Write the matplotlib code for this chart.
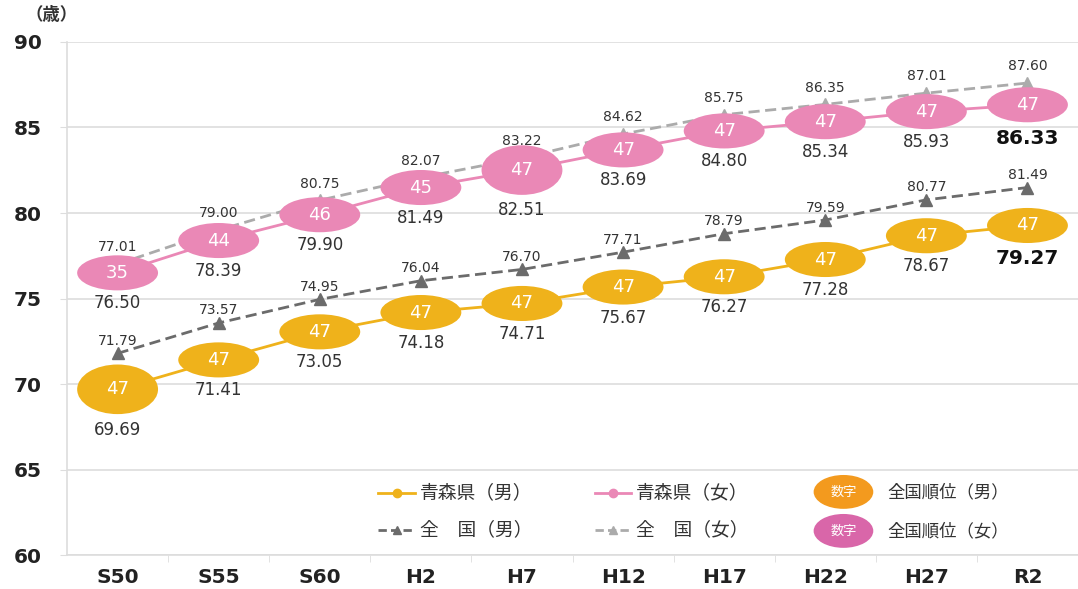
import matplotlib
matplotlib.use("Agg")
import matplotlib.pyplot as plt
from matplotlib.patches import Ellipse
from matplotlib.lines import Line2D

plt.rcParams['font.family'] = ['DejaVu Sans', 'Noto Sans CJK JP']

# 年次
periods = ["S50", "S55", "S60", "H2", "H7", "H12", "H17", "H22", "H27", "R2"]

# 平均寿命（歳）
aomori_male = [69.69, 71.41, 73.05, 74.18, 74.71, 75.67, 76.27, 77.28, 78.67, 79.27]
aomori_female = [76.50, 78.39, 79.90, 81.49, 82.51, 83.69, 84.80, 85.34, 85.93, 86.33]
national_male = [71.79, 73.57, 74.95, 76.04, 76.70, 77.71, 78.79, 79.59, 80.77, 81.49]
national_female = [77.01, 79.00, 80.75, 82.07, 83.22, 84.62, 85.75, 86.35, 87.01, 87.60]

# 全国順位
rank_male = [47, 47, 47, 47, 47, 47, 47, 47, 47, 47]
rank_female = [35, 44, 46, 45, 47, 47, 47, 47, 47, 47]

C_M = "#EFB21B"
C_F = "#EA88B6"
C_NM = "#6B6B6B"
C_NF = "#ABABAB"
C_TXT = "#333333"

fig = plt.figure(figsize=(10.78, 5.89), dpi=100)
ax = fig.add_axes([0.0622, 0.0577, 0.9378, 0.871])
x = list(range(len(periods)))

ax.set_xlim(-0.5, len(periods) - 0.5)
ax.set_ylim(60, 90)
ax.set_yticks(range(60, 91, 5))
ax.yaxis.grid(True, color="#DDDDDD", linewidth=1.2)
ax.set_axisbelow(True)
for s in ["top", "right"]:
    ax.spines[s].set_visible(False)
for s in ["left", "bottom"]:
    ax.spines[s].set_color("#DDDDDD")
    ax.spines[s].set_linewidth(1.2)
ax.tick_params(axis="y", length=5, color="#DDDDDD", labelsize=14.5, labelcolor="#222222", pad=13)
ax.set_xticks(x)
ax.set_xticklabels(periods)
ax.set_xticks([i + 0.5 for i in x[:-1]], minor=True)
ax.tick_params(axis="x", which="major", length=0, labelsize=14.5, labelcolor="#222222", pad=9)
ax.tick_params(axis="x", which="minor", length=5, color="#DDDDDD")
for lab in ax.get_xticklabels() + ax.get_yticklabels():
    lab.set_fontweight("bold")

# 全国
ax.plot(x, national_female, color=C_NF, lw=2, ls=(0, (4, 2)), marker="^", ms=8, zorder=2)
ax.plot(x, national_male, color=C_NM, lw=2, ls=(0, (4, 2)), marker="^", ms=8, zorder=2)
# 青森県
ax.plot(x, aomori_female, color=C_F, lw=2, zorder=3)
ax.plot(x, aomori_male, color=C_M, lw=2, zorder=3)

big = {("m", 0), ("f", 4)}
last = len(periods) - 1

for key, vals, ranks, col in [("m", aomori_male, rank_male, C_M),
                              ("f", aomori_female, rank_female, C_F)]:
    for i, (v, r) in enumerate(zip(vals, ranks)):
        h = 2.9 if (key, i) in big else 2.05
        ax.add_patch(Ellipse((i, v), 0.8, h, facecolor=col, edgecolor="none", zorder=4))
        ax.text(i, v, str(r), color="white", fontsize=13, ha="center", va="center", zorder=5)
        off = -29 if (key, i) in big else -22
        if i == last:
            ax.annotate(f"{v:.2f}", (i, v), xytext=(0, off - 2), textcoords="offset points",
                        ha="center", va="center", fontsize=14.5, fontweight="bold",
                        color="#111111", zorder=5)
        else:
            ax.annotate(f"{v:.2f}", (i, v), xytext=(0, off), textcoords="offset points",
                        ha="center", va="center", fontsize=12, color=C_TXT, zorder=5)

for vals, off in [(national_female, 12), (national_male, 9)]:
    for i, v in enumerate(vals):
        ax.annotate(f"{v:.2f}", (i, v), xytext=(0, off), textcoords="offset points",
                    ha="center", va="center", fontsize=10, color=C_TXT, zorder=5)

fig.text(0.024, 0.974, "（歳）", fontsize=12.5, fontweight="bold", color="#333333",
         ha="left", va="center", family=["Noto Sans CJK JP"])

# 凡例
jp = ["Noto Sans CJK JP", "DejaVu Sans"]
entries = [
    (0.308, 0.121, C_M, "-", "o", "青森県（男）"),
    (0.522, 0.121, C_F, "-", "o", "青森県（女）"),
    (0.308, 0.049, C_NM, "--", "^", "全　国（男）"),
    (0.522, 0.049, C_NF, "--", "^", "全　国（女）"),
]
for lx, ly, col, ls, mk, lab in entries:
    ax.add_line(Line2D([lx, lx + 0.036], [ly, ly], transform=ax.transAxes, color=col,
                       lw=2, ls=ls, dashes=(3, 1.5) if ls == "--" else (None, None),
                       zorder=6))
    ax.add_line(Line2D([lx + 0.018], [ly], transform=ax.transAxes, color=col, marker=mk,
                       ms=6, zorder=6))
    ax.text(lx + 0.041, ly, lab, transform=ax.transAxes, fontsize=13.5, color=C_TXT,
            ha="left", va="center", family=jp)

for ly, col, lab in [(0.123, "#F39A1E", "全国順位（男）"), (0.047, "#D966A9", "全国順位（女）")]:
    ax.add_patch(Ellipse((0.768, ly), 0.059, 0.066, transform=ax.transAxes,
                         facecolor=col, edgecolor="none", zorder=6))
    ax.text(0.768, ly, "数字", transform=ax.transAxes, fontsize=9.5, color="white",
            ha="center", va="center", family=jp, zorder=7)
    ax.text(0.811, ly, lab, transform=ax.transAxes, fontsize=12.5, color=C_TXT,
            ha="left", va="center", family=jp)

fig.savefig("out.png", dpi=100, facecolor="white")
